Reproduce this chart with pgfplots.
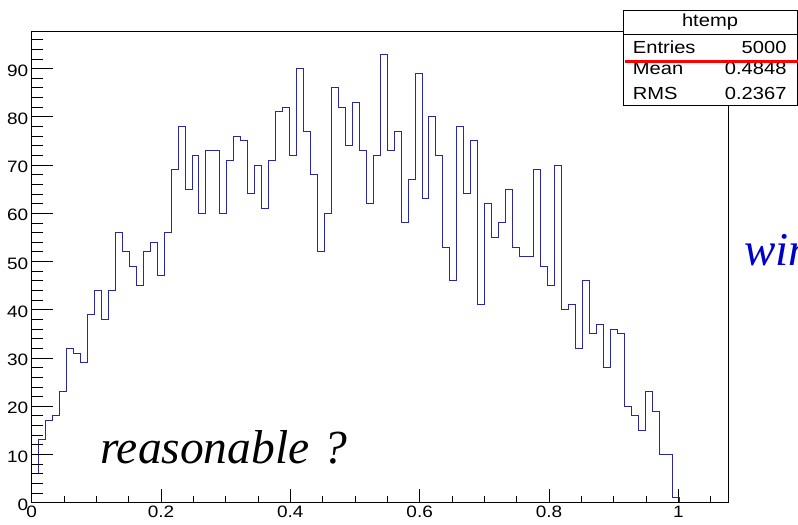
\documentclass[border=0pt]{standalone}
\usepackage{pgfplots}
\pgfplotsset{compat=1.18}
\usepackage{pgfplotstable}
\usepackage{fontspec}
\setmainfont{Liberation Sans}[FakeStretch=1.15]
\newfontfamily\annotfont{Liberation Serif}
\definecolor{histblue}{RGB}{40,40,165}
\definecolor{markred}{RGB}{255,0,0}
\definecolor{noteblue}{RGB}{0,0,204}

% htemp: 100 bins on [0, 1.078], left bin edge and bin content
\pgfplotstableread{
x y
0 6
0.01078 13
0.02156 17
0.03234 18
0.04312 23
0.0539 32
0.06468 31
0.07546 29
0.08624 39
0.09702 44
0.1078 38
0.11858 44
0.12936 56
0.14014 52
0.15092 49
0.1617 45
0.17248 52
0.18326 54
0.19404 47
0.20482 56
0.2156 69
0.22638 78
0.23716 65
0.24794 72
0.25872 60
0.2695 73
0.28028 73
0.29106 60
0.30184 71
0.31262 76
0.3234 75
0.33418 64
0.34496 70
0.35574 61
0.36652 71
0.3773 81
0.38808 82
0.39886 72
0.40964 90
0.42042 77
0.4312 68
0.44198 52
0.45276 60
0.46354 86
0.47432 82
0.4851 74
0.49588 83
0.50666 73
0.51744 62
0.52822 72
0.539 93
0.54978 73
0.56056 77
0.57134 58
0.58212 67
0.5929 89
0.60368 63
0.61446 80
0.62524 72
0.63602 53
0.6468 46
0.65758 78
0.66836 64
0.67914 75
0.68992 41
0.7007 62
0.71148 55
0.72226 58
0.73304 65
0.74382 53
0.7546 51
0.76538 51
0.77616 69
0.78694 49
0.79772 45
0.8085 70
0.81928 40
0.83006 41
0.84084 32
0.85162 46
0.8624 35
0.87318 37
0.88396 28
0.89474 36
0.90552 35
0.9163 20
0.92708 18
0.93786 15
0.94864 23
0.95942 19
0.9702 10
0.98098 10
0.99176 1
1.00254 0
1.078 0
}\histdata

\begin{document}
\begin{tikzpicture}[x=1bp,y=1bp]
\path[use as bounding box] (0,0) rectangle (798,525);
\clip (0,0) rectangle (798,525);
\pgfplotsset{
  rootframe/.style={
    scale only axis, width=697bp, height=471bp,
    at={(31.7bp,22.3bp)}, anchor=south west,
    xmin=0, xmax=1.078, ymin=0, ymax=97.65,
    axis line style={line width=0.9bp},
    tick style={black, line width=0.8bp},
    tick align=inside,
    /pgf/number format/assume math mode=true,
    ticklabel style={font=\fontsize{16.5bp}{18bp}\selectfont},
  }
}
% frame, histogram and x-axis ticks
\begin{axis}[rootframe,
  xtick={0,0.2,0.4,0.6,0.8,1},
  xticklabels={0,0.2,0.4,0.6,0.8,1},
  minor xtick={0.05,0.1,...,1.06},
  xtick pos=bottom,
  ytick=\empty,
  major tick length=14bp, minor tick length=7bp]
\addplot[const plot mark left, histblue, line width=1bp, mark=none]
  table[x=x,y=y]{\histdata};
\end{axis}
% y-axis ticks (longer than the x ones)
\begin{axis}[rootframe,
  xtick=\empty,
  ytick={0,10,...,90},
  minor ytick={2,4,...,96},
  ytick pos=left,
  major tick length=21.7bp, minor tick length=11.7bp,
  yticklabel style={yshift=-2bp}]
\end{axis}

% statistics box
\begin{scope}[font=\fontsize{17.5bp}{19bp}\selectfont]
\draw[fill=white, line width=0.9bp] (623.3,420) rectangle (797.3,515);
\draw[line width=0.9bp] (623.3,491) -- (797.3,491);
\node[anchor=base, inner sep=0] at (710,498.3) {htemp};
\node[anchor=base west, inner sep=0] at (632.7,471.7) {Entries};
\node[anchor=base east, inner sep=0] at (786.7,471.7) {5000};
\node[anchor=base west, inner sep=0] at (632.7,450) {Mean};
\node[anchor=base east, inner sep=0] at (786.7,450) {0.4848};
\node[anchor=base west, inner sep=0] at (632.7,425) {RMS};
\node[anchor=base east, inner sep=0] at (786.7,425) {0.2367};
\end{scope}
\draw[markred, line width=3bp] (625,463.5) -- (798,463.5);

% annotations
\node[anchor=base west, inner sep=0,
  font=\annotfont\itshape\fontsize{47.5bp}{52bp}\selectfont]
  at (100,61.7) {reasonable\hspace{0.3em}?};
\node[anchor=base west, inner sep=0, text=noteblue,
  font=\annotfont\itshape\fontsize{47bp}{52bp}\selectfont]
  at (744,259) {win};
\end{tikzpicture}
\end{document}
